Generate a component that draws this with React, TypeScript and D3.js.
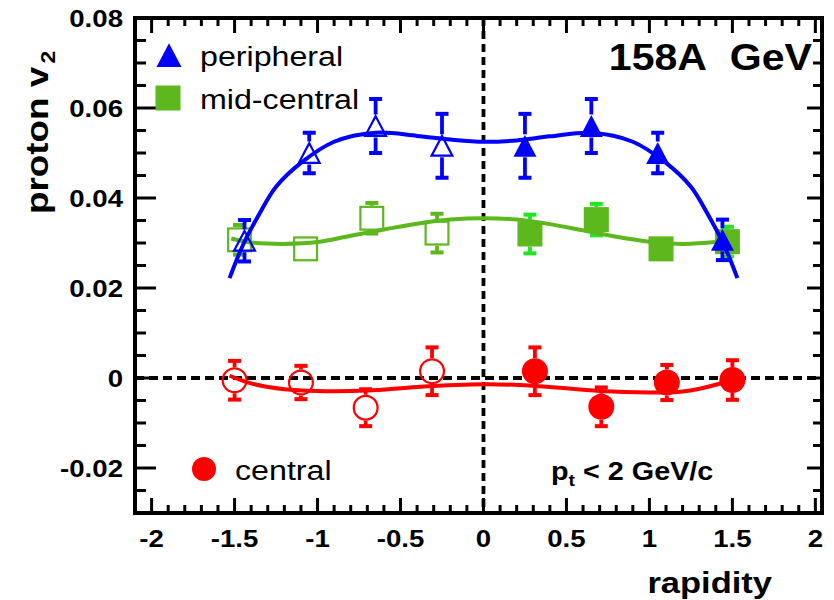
import React from "react";
import * as d3 from "d3";

// ---------- data ----------
const periX = [-1.44, -1.05, -0.65, -0.25, 0.25, 0.65, 1.05, 1.44];
const periV2 = [0.0305, 0.05, 0.056, 0.0516, 0.0516, 0.056, 0.05, 0.0307];
const periErr = [0.0046, 0.0045, 0.006, 0.0071, 0.0071, 0.006, 0.0045, 0.0045];

const midX = [-1.47, -1.072, -0.673, -0.28, 0.28, 0.68, 1.07, 1.47];
const midV2 = [0.0307, 0.0287, 0.0355, 0.0322, 0.032, 0.0352, 0.0287, 0.0303];
const midErr = [0.0033, 0.001, 0.0034, 0.0043, 0.0043, 0.0035, 0.001, 0.0033];

const cenX = [-1.5, -1.1, -0.71, -0.31, 0.31, 0.71, 1.105, 1.5];
const cenV2 = [-0.0005, -0.001, -0.0066, 0.0015, 0.0015, -0.0064, -0.001, -0.00045];
const cenErr = [0.0043, 0.0037, 0.0041, 0.0053, 0.0053, 0.0043, 0.0039, 0.0044];

// fitted curves
const periFitX = [-1.53, -1.45, -1.35, -1.25, -1.1, -0.9, -0.65, -0.4, -0.2, 0, 0.2, 0.4, 0.65, 0.9, 1.1, 1.25, 1.35, 1.45, 1.53];
const periFitV2 = [0.0222, 0.0295, 0.0365, 0.0425, 0.0478, 0.0525, 0.0545, 0.0538, 0.053, 0.0525, 0.0528, 0.0537, 0.0545, 0.0525, 0.0478, 0.0425, 0.0365, 0.0295, 0.0222];

const midFitX = [-1.52, -1.4, -1.2, -1.0, -0.8, -0.6, -0.4, -0.2, 0, 0.2, 0.4, 0.6, 0.8, 1.0, 1.2, 1.4, 1.52];
const midFitV2 = [0.031, 0.0301, 0.0298, 0.0302, 0.0316, 0.033, 0.0343, 0.0352, 0.0355, 0.0352, 0.0342, 0.0328, 0.0314, 0.0303, 0.0298, 0.0302, 0.0308];

const cenFitX = [-1.53, -1.4, -1.2, -1.0, -0.7, -0.4, 0, 0.3, 0.7, 1.0, 1.2, 1.4, 1.53];
const cenFitV2 = [0.0005, -0.0012, -0.0025, -0.0029, -0.0028, -0.002, -0.0014, -0.0017, -0.0029, -0.0032, -0.003, -0.0015, 0.0002];

const xTickValues = [-2, -1.5, -1, -0.5, 0, 0.5, 1, 1.5, 2];
const xTickLabels = ["-2", "-1.5", "-1", "-0.5", "0", "0.5", "1", "1.5", "2"];
const yTickValues = [-0.02, 0, 0.02, 0.04, 0.06, 0.08];
const yTickLabels = ["-0.02", "0", "0.02", "0.04", "0.06", "0.08"];

const legendLabels = ["peripheral", "mid-central", "central"];

// ---------- style ----------
const BLUE = "#0000ff";
const GREEN = "#5cb81c";
const GREEN_ERR = "#22e622";
const RED = "#ff0000";
const FONT = "'Liberation Sans', Arial, Helvetica, sans-serif";

const W = 834;
const H = 600;
const L = 135, R = 822, T = 18, B = 513;

const x = d3.scaleLinear().domain([-2.1, 2.04]).range([L, R]);
const y = d3.scaleLinear().domain([-0.03, 0.08]).range([B, T]);

function Txt(props: any) {
  const { x: tx, y: ty, size, weight = "normal", anchor = "start", rotate = 0, sx = 1.15, children } = props;
  return (
    <text
      transform={`translate(${tx},${ty}) rotate(${rotate}) scale(${sx},1)`}
      fontFamily={FONT}
      fontSize={size}
      fontWeight={weight}
      textAnchor={anchor}
      fill="#000"
    >
      {children}
    </text>
  );
}

function Marker({ cx, cy, shape, color, filled, size }: any) {
  const sw = 2.2;
  const fill = filled ? color : "none";
  const stroke = color;
  if (shape === "tri") {
    const w = size, h = size * 0.95;
    const inset = filled ? 0 : sw / 2;
    const p = `M${cx},${cy - h / 2 + inset} L${cx + w / 2 - inset},${cy + h / 2 - inset} L${cx - w / 2 + inset},${cy + h / 2 - inset} Z`;
    return <path d={p} fill={fill} stroke={filled ? "none" : stroke} strokeWidth={sw} strokeLinejoin="miter" />;
  }
  if (shape === "sq") {
    const s = filled ? size : size - sw;
    return <rect x={cx - s / 2} y={cy - s / 2} width={s} height={s} fill={fill} stroke={filled ? "none" : stroke} strokeWidth={sw} />;
  }
  const r = filled ? size / 2 : size / 2 - sw / 2;
  return <circle cx={cx} cy={cy} r={r} fill={fill} stroke={filled ? "none" : stroke} strokeWidth={sw} />;
}

function Series({ xs, vs, es, shape, color, errColorPos, size }: any) {
  const half = size / 2;
  return (
    <g>
      {xs.map((xv: number, i: number) => {
        const cx = x(xv);
        const cy = y(vs[i]);
        const yTop = y(vs[i] + es[i]);
        const yBot = y(vs[i] - es[i]);
        const ec = xv > 0 && errColorPos ? errColorPos : color;
        const capW = 13, capH = 4;
        const parts: any[] = [];
        if (yTop < cy - half) {
          parts.push(<line key="t" x1={cx} x2={cx} y1={yTop} y2={cy - half} stroke={ec} strokeWidth={3.8} />);
        }
        if (yTop < cy - half + 3) {
          parts.push(<rect key="tc" x={cx - capW / 2} y={yTop - capH / 2} width={capW} height={capH} fill={ec} />);
        }
        if (yBot > cy + half) {
          parts.push(<line key="b" x1={cx} x2={cx} y1={cy + half} y2={yBot} stroke={ec} strokeWidth={3.8} />);
        }
        if (yBot > cy + half - 3) {
          parts.push(<rect key="bc" x={cx - capW / 2} y={yBot - capH / 2} width={capW} height={capH} fill={ec} />);
        }
        return (
          <g key={i}>
            {parts}
            <Marker cx={cx} cy={cy} shape={shape} color={color} filled={xv > 0} size={size} />
          </g>
        );
      })}
    </g>
  );
}

function fitPath(xs: number[], vs: number[]) {
  const line = d3
    .line<number>()
    .x((d, i) => x(xs[i]))
    .y((d) => y(d))
    .curve(d3.curveCatmullRom.alpha(0.5));
  return line(vs) || "";
}

export default function App() {
  const xMinor = d3.range(-21, 21).map((i) => i / 10).filter((v) => Math.abs(Math.round(v * 2) - v * 2) > 1e-6);
  const yMinor = d3.range(-6, 17).map((i) => i * 0.005).filter((v) => Math.abs(Math.round(v * 50) - v * 50) > 1e-6);

  return (
    <svg width={W} height={H} style={{ position: "absolute", left: 0, top: 0, background: "#fff" }}>
      <rect x={0} y={0} width={W} height={H} fill="#fff" />

      {/* zero lines */}
      <line x1={L} x2={R} y1={y(0)} y2={y(0)} stroke="#000" strokeWidth={3.8} strokeDasharray="9,5" />
      <line x1={x(0)} x2={x(0)} y1={T} y2={B} stroke="#000" strokeWidth={3.8} strokeDasharray="8,5" />

      {/* central */}
      <Series xs={cenX} vs={cenV2} es={cenErr} shape="circ" color={RED} size={26} />
      <path d={fitPath(cenFitX, cenFitV2)} fill="none" stroke={RED} strokeWidth={4} />

      {/* mid-central */}
      <Series xs={midX} vs={midV2} es={midErr} shape="sq" color={GREEN} errColorPos={GREEN_ERR} size={25} />
      <path d={fitPath(midFitX, midFitV2)} fill="none" stroke={GREEN} strokeWidth={4} />

      {/* peripheral */}
      <Series xs={periX} vs={periV2} es={periErr} shape="tri" color={BLUE} size={23} />
      <path d={fitPath(periFitX, periFitV2)} fill="none" stroke={BLUE} strokeWidth={4} />

      {/* ticks */}
      <g stroke="#000" strokeWidth={3}>
        {xTickValues.map((v) => (
          <g key={"xM" + v}>
            <line x1={x(v)} x2={x(v)} y1={B} y2={B - 15} />
            <line x1={x(v)} x2={x(v)} y1={T} y2={T + 15} />
          </g>
        ))}
        {xMinor.map((v) => (
          <g key={"xm" + v}>
            <line x1={x(v)} x2={x(v)} y1={B} y2={B - 8} />
            <line x1={x(v)} x2={x(v)} y1={T} y2={T + 8} />
          </g>
        ))}
        {yTickValues.map((v) => (
          <g key={"yM" + v}>
            <line x1={L} x2={L + 21} y1={y(v)} y2={y(v)} />
            <line x1={R} x2={R - 15} y1={y(v)} y2={y(v)} />
          </g>
        ))}
        {yMinor.map((v) => (
          <g key={"ym" + v}>
            <line x1={L} x2={L + 11} y1={y(v)} y2={y(v)} />
            <line x1={R} x2={R - 9} y1={y(v)} y2={y(v)} />
          </g>
        ))}
      </g>

      {/* frame */}
      <rect x={L} y={T} width={R - L} height={B - T} fill="none" stroke="#000" strokeWidth={4} />

      {/* tick labels */}
      {xTickValues.map((v, i) => (
        <Txt key={"xl" + i} x={x(v)} y={547} size={24} weight="bold" anchor="middle">
          {xTickLabels[i]}
        </Txt>
      ))}
      {yTickValues.map((v, i) => (
        <Txt key={"yl" + i} x={123} y={y(v) + 9} size={24} weight="bold" anchor="end">
          {yTickLabels[i]}
        </Txt>
      ))}

      {/* axis titles */}
      <Txt x={772} y={593} size={30} weight="bold" anchor="end">rapidity</Txt>
      <Txt x={48} y={214} size={32} weight="bold" rotate={-90}>
        proton v<tspan fontSize={20} dy={7} dx={3}>2</tspan>
      </Txt>

      {/* labels */}
      <Txt x={812} y={70} size={37} weight="bold" anchor="end" sx={1.11}>158A{"\u00a0\u00a0"}GeV</Txt>
      <Txt x={551} y={480} size={25} weight="bold">
        p<tspan fontSize={17} dy={6}>t</tspan><tspan dy={-6}>{" < 2 GeV/c"}</tspan>
      </Txt>

      {/* legend */}
      <Marker cx={169} cy={55} shape="tri" color={BLUE} filled size={25} />
      <Txt x={200} y={66} size={28}>{legendLabels[0]}</Txt>
      <Marker cx={168} cy={98} shape="sq" color={GREEN} filled size={25} />
      <Txt x={200} y={109} size={28}>{legendLabels[1]}</Txt>
      <Marker cx={204} cy={469} shape="circ" color={RED} filled size={24} />
      <Txt x={235} y={480} size={28}>{legendLabels[2]}</Txt>
    </svg>
  );
}
